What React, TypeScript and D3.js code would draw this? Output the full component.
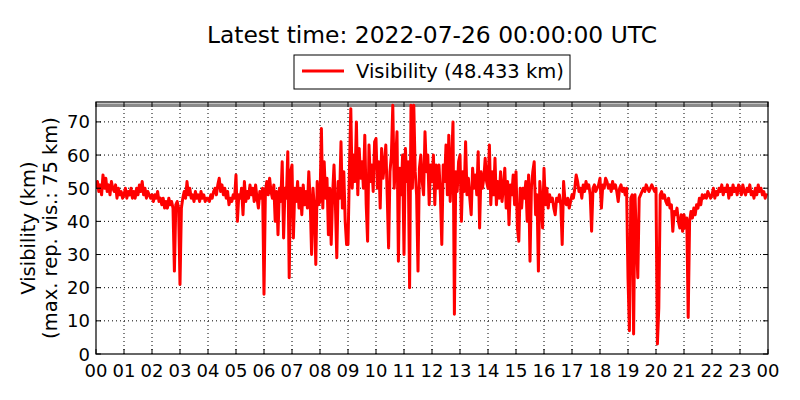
import React, { useEffect, useRef } from 'react';
import * as d3 from 'd3';

// visibility (km), one value every 3 minutes, one row per hour 00..23
const visibility: number[] = [
  50, 52, 49, 51, 48, 54, 50, 53, 49, 51, 48, 52, 50, 49, 51, 47, 50, 48, 49, 47,
  48, 50, 47, 49, 48, 50, 47, 49, 47, 50, 48, 51, 49, 52, 48, 50, 47, 49, 48, 47,
  48, 46, 48, 47, 49, 46, 47, 45, 47, 44, 46, 44, 47, 45, 46, 44, 25, 45, 46, 44,
  21, 44, 47, 49, 47, 52, 48, 50, 47, 48, 46, 49, 47, 48, 46, 49, 47, 48, 46, 47,
  47, 46, 48, 47, 49, 50, 48, 51, 53, 49, 51, 48, 50, 47, 49, 45, 47, 46, 48, 47,
  54, 40, 48, 47, 50, 42, 52, 46, 49, 47, 51, 48, 50, 46, 51, 47, 44, 49, 47, 50,
  18, 49, 52, 48, 53, 49, 47, 51, 40, 49, 36, 50, 46, 58, 35, 50, 47, 61, 23, 55,
  57, 35, 50, 46, 52, 44, 50, 42, 51, 45, 49, 44, 55, 46, 30, 50, 44, 27, 52, 45,
  46, 68, 44, 58, 47, 53, 36, 50, 33, 48, 57, 45, 29, 52, 47, 64, 44, 55, 40, 33,
  33, 55, 74, 50, 60, 52, 70, 48, 62, 53, 58, 50, 66, 45, 34, 63, 52, 57, 49, 64,
  65, 50, 58, 44, 62, 53, 57, 63, 48, 32, 55, 60, 75, 50, 58, 67, 28, 56, 48, 60,
  30, 62, 52, 58, 20, 75, 50, 75, 55, 48, 25, 56, 60, 52, 48, 67, 55, 60, 45, 57,
  52, 60, 45, 57, 50, 57, 48, 33, 57, 52, 63, 48, 66, 46, 58, 70, 12, 55, 49, 58,
  60, 40, 55, 49, 64, 48, 53, 47, 42, 56, 50, 54, 48, 61, 38, 55, 50, 53, 59, 52,
  50, 63, 45, 55, 48, 59, 45, 52, 47, 55, 46, 50, 56, 44, 52, 39, 51, 48, 54, 45,
  55, 38, 34, 50, 44, 50, 47, 52, 40, 54, 28, 50, 55, 58, 42, 48, 25, 52, 46, 38,
  56, 45, 50, 44, 48, 46, 47, 44, 42, 47, 46, 48, 45, 33, 52, 46, 45, 47, 44, 46,
  48, 47, 50, 54, 52, 49, 50, 47, 51, 49, 52, 50, 51, 48, 37, 50, 51, 49, 50, 51,
  53, 44, 51, 50, 53, 52, 50, 51, 49, 52, 50, 51, 49, 46, 50, 51, 49, 50, 48, 50,
  23, 7, 47, 48, 6, 48, 35, 23, 47, 48, 49, 50, 49, 51, 50, 49, 50, 51, 50, 49,
  50, 3, 14, 48, 49, 47, 48, 46, 45, 47, 44, 45, 37, 43, 42, 44, 40, 38, 42, 37,
  42, 38, 41, 11, 40, 43, 41, 44, 42, 45, 44, 47, 45, 48, 47, 48, 47, 49, 48, 47,
  48, 50, 47, 49, 48, 50, 49, 51, 48, 50, 49, 51, 47, 50, 48, 51, 49, 50, 48, 51,
  50, 48, 51, 49, 48, 50, 49, 51, 48, 49, 47, 50, 48, 51, 49, 50, 48, 49, 47, 48.433,
];
const stepMinutes = 3;

const hourLabels: string[] = [
  '00', '01', '02', '03', '04', '05', '06', '07', '08', '09', '10', '11',
  '12', '13', '14', '15', '16', '17', '18', '19', '20', '21', '22', '23', '00',
];
const yTicks: number[] = [0, 10, 20, 30, 40, 50, 60, 70];
const maxRepVis = 75;
const latest = 48.433;

const App: React.FC = () => {
  const svgRef = useRef<SVGSVGElement | null>(null);

  useEffect(() => {
    if (!svgRef.current) return;
    const svg = d3.select(svgRef.current);
    svg.selectAll('*').remove();

    const width = 800;
    const height = 400;
    const margin = { top: 102, right: 32, bottom: 46, left: 96 };
    const font = 'DejaVu Sans, sans-serif';

    const x = d3.scaleLinear()
      .domain([0, 24])
      .range([margin.left, width - margin.right]);
    const y = d3.scaleLinear()
      .domain([0, 76])
      .range([height - margin.bottom, margin.top]);

    const [x0, x1] = x.range();
    const [y0, y1] = y.range();

    svg.append('rect').attr('width', width).attr('height', height).attr('fill', '#fff');

    svg.append('defs').append('clipPath').attr('id', 'plot-clip')
      .append('rect')
      .attr('x', x0).attr('y', y1)
      .attr('width', x1 - x0).attr('height', y0 - y1);

    // grid
    const grid = svg.append('g')
      .attr('stroke', '#000')
      .attr('stroke-width', 1)
      .attr('stroke-dasharray', '1,3');
    grid.selectAll('.gx')
      .data(d3.range(1, 24))
      .enter().append('line')
      .attr('x1', d => x(d)).attr('x2', d => x(d))
      .attr('y1', y0).attr('y2', y1);
    grid.selectAll('.gy')
      .data(yTicks.slice(1))
      .enter().append('line')
      .attr('x1', x0).attr('x2', x1)
      .attr('y1', d => y(d)).attr('y2', d => y(d));

    // max reported visibility line
    svg.append('line')
      .attr('clip-path', 'url(#plot-clip)')
      .attr('x1', x0).attr('x2', x1)
      .attr('y1', y(maxRepVis)).attr('y2', y(maxRepVis))
      .attr('stroke', '#8a8a8a')
      .attr('stroke-width', 3.5);

    const line = d3.line<number>()
      .x((_, i) => x((i * stepMinutes) / 60))
      .y(d => y(d));

    svg.append('path')
      .datum(visibility)
      .attr('clip-path', 'url(#plot-clip)')
      .attr('fill', 'none')
      .attr('stroke', '#ff0000')
      .attr('stroke-width', 3)
      .attr('stroke-linejoin', 'round')
      .attr('d', line);

    // ticks inside on all four sides
    const ticks = svg.append('g').attr('stroke', '#000').attr('stroke-width', 1);
    hourLabels.forEach((_, i) => {
      ticks.append('line').attr('x1', x(i)).attr('x2', x(i)).attr('y1', y0).attr('y2', y0 - 5);
      ticks.append('line').attr('x1', x(i)).attr('x2', x(i)).attr('y1', y1).attr('y2', y1 + 5);
    });
    yTicks.forEach(t => {
      ticks.append('line').attr('x1', x0).attr('x2', x0 + 5).attr('y1', y(t)).attr('y2', y(t));
      ticks.append('line').attr('x1', x1).attr('x2', x1 - 5).attr('y1', y(t)).attr('y2', y(t));
    });

    svg.append('rect')
      .attr('x', x0).attr('y', y1)
      .attr('width', x1 - x0).attr('height', y0 - y1)
      .attr('fill', 'none')
      .attr('stroke', '#000')
      .attr('stroke-width', 1.2);

    // tick labels
    svg.append('g').selectAll('text')
      .data(hourLabels)
      .enter().append('text')
      .attr('x', (_, i) => x(i))
      .attr('y', y0 + 23)
      .attr('text-anchor', 'middle')
      .attr('font-family', font)
      .attr('font-size', 18)
      .text(d => d);

    svg.append('g').selectAll('text')
      .data(yTicks)
      .enter().append('text')
      .attr('x', x0 - 6)
      .attr('y', d => y(d) + 6.5)
      .attr('text-anchor', 'end')
      .attr('font-family', font)
      .attr('font-size', 18)
      .text(d => String(d));

    // y label
    const yl = svg.append('text')
      .attr('transform', `translate(35,${(y0 + y1) / 2}) rotate(-90)`)
      .attr('text-anchor', 'middle')
      .attr('font-family', font)
      .attr('font-size', 19.5);
    yl.append('tspan').attr('x', 0).attr('dy', 0).text('Visibility (km)');
    yl.append('tspan').attr('x', 0).attr('dy', 22).text(`(max. rep. vis.: ${maxRepVis} km)`);

    // title
    svg.append('text')
      .attr('x', (x0 + x1) / 2)
      .attr('y', 43)
      .attr('text-anchor', 'middle')
      .attr('font-family', font)
      .attr('font-size', 23.4)
      .text('Latest time: 2022-07-26 00:00:00 UTC');

    // legend
    const lg = svg.append('g');
    lg.append('rect')
      .attr('x', 294).attr('y', 55).attr('width', 276).attr('height', 34)
      .attr('fill', '#fff').attr('stroke', '#000').attr('stroke-width', 1);
    lg.append('line')
      .attr('x1', 302).attr('x2', 344).attr('y1', 71).attr('y2', 71)
      .attr('stroke', '#ff0000').attr('stroke-width', 3);
    lg.append('text')
      .attr('x', 356).attr('y', 78)
      .attr('font-family', font)
      .attr('font-size', 19.5)
      .text(`Visibility (${latest.toFixed(3)} km)`);
  }, []);

  return (
    <div style={{ width: 800, height: 400, margin: -8 }}>
      <svg ref={svgRef} width="800" height="400" style={{ display: 'block' }}></svg>
    </div>
  );
};

export default App;
